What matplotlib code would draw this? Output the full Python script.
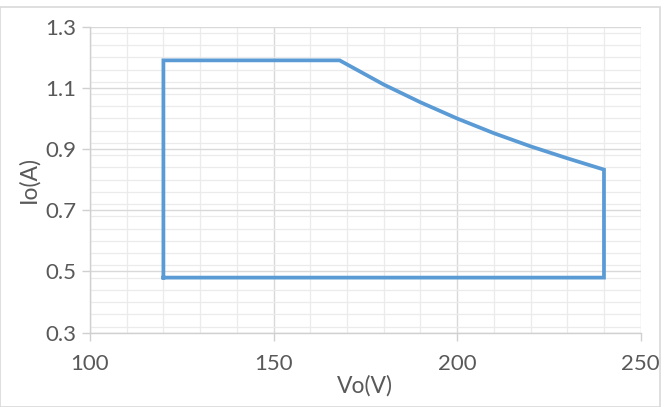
import matplotlib.pyplot as plt
from matplotlib.patches import Rectangle
from matplotlib.ticker import MultipleLocator

# operating envelope: output voltage vs output current
vo = [120, 120, 168, 180, 190, 200, 210, 220, 230, 240, 240, 120]
io = [0.48, 1.19, 1.19, 1.111, 1.053, 1.0, 0.952, 0.909, 0.870, 0.833, 0.48, 0.48]

xticks = [100, 150, 200, 250]
yticks = [0.3, 0.5, 0.7, 0.9, 1.1, 1.3]

plt.rcParams['font.family'] = ['Lato', 'DejaVu Sans']

fig = plt.figure(figsize=(6.66, 4.07), dpi=100)
ax = fig.add_axes([0.1351, 0.1826, 0.962 - 0.1351, 0.9344 - 0.1826])

# chart-area border
fig.patches.append(Rectangle((0.0, 0.0), 0.991, 0.982, transform=fig.transFigure,
                             fill=False, edgecolor='#D9D9D9', linewidth=1.2))

ax.plot(vo, io, color='#5B9BD5', linewidth=2.7, solid_joinstyle='miter', zorder=3)

ax.set_xlim(100, 250)
ax.set_ylim(0.3, 1.3)
ax.set_xticks(xticks)
ax.set_yticks(yticks)
ax.set_yticklabels([f'{t:.1f}' for t in yticks])
ax.xaxis.set_minor_locator(MultipleLocator(10))
ax.yaxis.set_minor_locator(MultipleLocator(0.04))

ax.grid(which='major', color='#D9D9D9', linewidth=1.0)
ax.grid(which='minor', color='#EBEBEB', linewidth=0.9)
ax.set_axisbelow(True)

for s in ['top', 'right']:
    ax.spines[s].set_visible(False)
for s in ['left', 'bottom']:
    ax.spines[s].set_color('#D0D0D0')
    ax.spines[s].set_linewidth(1.0)

ax.tick_params(which='major', length=6, width=1.0, color='#D0D0D0',
               labelcolor='#595959', labelsize=16, pad=4)
ax.tick_params(axis='x', pad=9)
ax.tick_params(which='minor', length=0)

ax.set_xlabel('Vo(V)', fontsize=16.5, color='#595959', labelpad=1)
ax.set_ylabel('Io(A)', fontsize=16.5, color='#595959', labelpad=4)

fig.savefig('out.png', dpi=100)
